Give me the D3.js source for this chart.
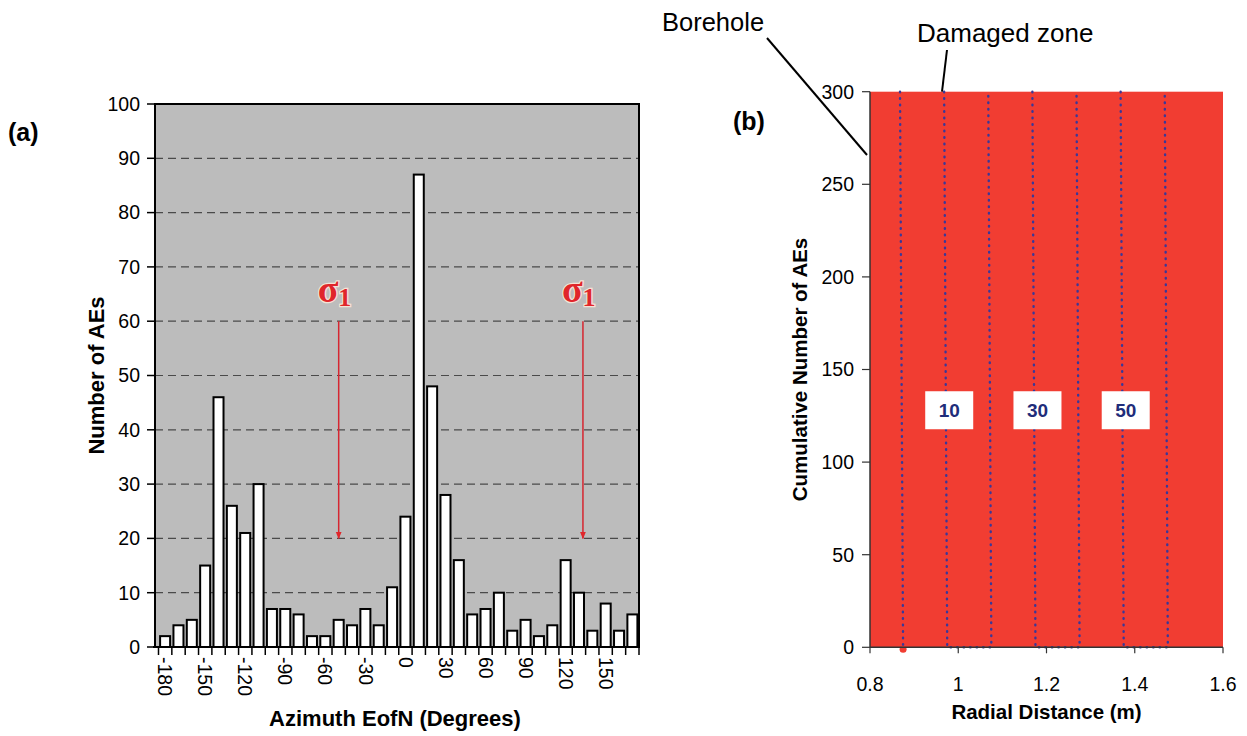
<!DOCTYPE html>
<html lang="en">
	<head>
		<meta charset="utf-8">
		<title>AE azimuth and radial distance</title>
		<script type="text/javascript" src="https://d3js.org/d3.v7.min.js"></script>
		<style type="text/css">
			body { margin: 0; background: white; }
			svg text { font-family: "Liberation Sans", Arial, sans-serif; }
		</style>
		<script>
			// (a) histogram: one bar per 10 degree bin
			const azimuthBins = d3.range(-180, 180, 10);
			const aeCounts = [2, 4, 5, 15, 46, 26, 21, 30, 7, 7, 6, 2, 2, 5, 4, 7, 4, 11,
				24, 87, 48, 28, 16, 6, 7, 10, 3, 5, 2, 4, 16, 10, 3, 8, 3, 6];
			const azimuthLabels = [-180, -150, -120, -90, -60, -30, 0, 30, 60, 90, 120, 150];
			const countTicks = d3.range(0, 101, 10);
			const sigmaAzimuths = [-45, 138];
			const sigmaRange = [60, 20];

			// (b) cumulative AEs vs radial distance
			const boreholeLine = [[0.868, 300], [0.875, 0]];
			const zoneLabels = ["10", "30", "50"];
			const zoneLines = [
				[[0.968, 300], [0.975, 0], [1.075, 0], [1.068, 300]],
				[[1.168, 300], [1.175, 0], [1.275, 0], [1.268, 300]],
				[[1.368, 300], [1.375, 0], [1.475, 0], [1.468, 300]]
			];
			const zoneLabelY = 128;
			const distTicks = [0.8, 1, 1.2, 1.4, 1.6];
			const cumTicks = [0, 50, 100, 150, 200, 250, 300];

			const init = () => {
				const svg = d3.select("#escenario");

				// ---------- panel (a) ----------
				const x = d3.scaleBand()
					.domain(azimuthBins)
					.range([158.5, 639])
					.paddingInner(0.25)
					.paddingOuter(0.12);
				const xLin = d3.scaleLinear().domain([-180, 180]).range([158.5, 639]);
				const y = d3.scaleLinear().domain([0, 100]).range([647, 104]);

				const a = svg.append("g");
				a.append("rect")
					.attr("x", 155).attr("y", y(100))
					.attr("width", 639 - 155).attr("height", y(0) - y(100))
					.style("fill", "#bcbcbc");

				// dashed grid
				a.append("g").selectAll("line")
					.data(countTicks.filter(d => d > 0 && d < 100)).enter()
					.append("line")
					.attr("x1", 155).attr("x2", 639)
					.attr("y1", d => y(d)).attr("y2", d => y(d))
					.style("stroke", "#4a4a4a")
					.style("stroke-width", 1.2)
					.style("stroke-dasharray", "8,5");

				// bars
				a.append("g").selectAll("rect")
					.data(aeCounts).enter()
					.append("rect")
					.attr("x", (d, i) => x(azimuthBins[i]))
					.attr("y", d => y(d))
					.attr("width", x.bandwidth())
					.attr("height", d => y(0) - y(d))
					.style("fill", "white")
					.style("stroke", "black")
					.style("stroke-width", 2);

				// frame
				a.append("rect")
					.attr("x", 155).attr("y", y(100))
					.attr("width", 639 - 155).attr("height", y(0) - y(100))
					.style("fill", "none")
					.style("stroke", "black")
					.style("stroke-width", 2);

				// y axis
				a.append("g").selectAll("line")
					.data(countTicks).enter()
					.append("line")
					.attr("x1", 147).attr("x2", 155)
					.attr("y1", d => y(d)).attr("y2", d => y(d))
					.style("stroke", "black").style("stroke-width", 1.5);
				a.append("g").selectAll("text")
					.data(countTicks).enter()
					.append("text")
					.attr("x", 140).attr("y", d => y(d))
					.attr("dy", "0.35em")
					.attr("text-anchor", "end")
					.style("font-size", "19.5px")
					.text(d => d);

				// x axis: ticks between bins, labels under bins
				const boundaries = d3.range(0, azimuthBins.length + 1).map(i => 158.5 + i * (639 - 158.5) / azimuthBins.length);
				a.append("g").selectAll("line")
					.data(boundaries).enter()
					.append("line")
					.attr("x1", d => d).attr("x2", d => d)
					.attr("y1", y(0)).attr("y2", y(0) + 8)
					.style("stroke", "black").style("stroke-width", 1.5);
				a.append("line")
					.attr("x1", 153).attr("x2", 639)
					.attr("y1", y(0)).attr("y2", y(0))
					.style("stroke", "black").style("stroke-width", 2);
				a.append("g").selectAll("text")
					.data(azimuthLabels).enter()
					.append("text")
					.attr("transform", d => "translate(" + (x(d) + x.bandwidth() / 2) + ",657) rotate(90)")
					.attr("dy", "0.35em")
					.attr("text-anchor", "start")
					.style("font-size", "19.5px")
					.text(d => d);

				// sigma arrows
				const defs = svg.append("defs");
				defs.append("marker")
					.attr("id", "arrow")
					.attr("viewBox", "0 0 10 10")
					.attr("refX", 9).attr("refY", 5)
					.attr("markerWidth", 5).attr("markerHeight", 9)
					.attr("orient", "auto")
					.append("path")
					.attr("d", "M0,1 L10,5 L0,9 Z")
					.style("fill", "#e0262b");

				sigmaAzimuths.forEach(az => {
					a.append("line")
						.attr("x1", xLin(az)).attr("x2", xLin(az))
						.attr("y1", y(sigmaRange[0])).attr("y2", y(sigmaRange[1]))
						.style("stroke", "#d62630")
						.style("stroke-width", 1.5)
						.attr("marker-end", "url(#arrow)");
					const s = a.append("text")
						.attr("x", xLin(az) - 21).attr("y", y(sigmaRange[0]) - 19)
						.style("font-family", "'Liberation Serif', 'DejaVu Serif', serif")
						.style("font-size", "38px")
						.style("font-weight", "bold")
						.style("fill", "#e0262b")
						.style("stroke", "#f4e2d6")
						.style("stroke-width", 2.5)
						.style("paint-order", "stroke");
					s.append("tspan").text("σ");
					s.append("tspan").attr("dy", 4).style("font-size", "26px").text("1");
				});

				a.append("text")
					.attr("transform", "translate(104," + (y(50)) + ") rotate(-90)")
					.attr("text-anchor", "middle")
					.style("font-size", "22px").style("font-weight", "bold")
					.text("Number of AEs");
				a.append("text")
					.attr("x", 395).attr("y", 726)
					.attr("text-anchor", "middle")
					.style("font-size", "22px").style("font-weight", "bold")
					.text("Azimuth EofN (Degrees)");
				a.append("text")
					.attr("x", 8).attr("y", 141)
					.style("font-size", "25px").style("font-weight", "bold")
					.text("(a)");

				// ---------- panel (b) ----------
				const xb = d3.scaleLinear().domain([0.8, 1.6]).range([870, 1223]);
				const yb = d3.scaleLinear().domain([0, 300]).range([647.3, 91.7]);
				const b = svg.append("g");

				b.append("rect")
					.attr("x", xb(0.8)).attr("y", yb(300))
					.attr("width", xb(1.6) - xb(0.8)).attr("height", yb(0) - yb(300))
					.style("fill", "#f13d32");

				const line = d3.line().x(d => xb(d[0])).y(d => yb(d[1]));
				b.append("path")
					.datum(boreholeLine)
					.attr("d", line)
					.style("fill", "none")
					.style("stroke", "#3a3898")
					.style("stroke-width", 2.4)
					.style("stroke-linecap", "round")
					.style("stroke-dasharray", "0.5,6");
				b.append("g").selectAll("path")
					.data(zoneLines).enter()
					.append("path")
					.attr("d", line)
					.style("fill", "none")
					.style("stroke", "#3a3898")
					.style("stroke-width", 2.4)
					.style("stroke-linecap", "round")
					.style("stroke-dasharray", "0.5,6");

				b.append("circle")
					.attr("cx", xb(boreholeLine[1][0])).attr("cy", yb(0) + 2)
					.attr("r", 3.5)
					.style("fill", "#f13d32");

				// axes
				b.append("line")
					.attr("x1", xb(0.8)).attr("x2", xb(0.8))
					.attr("y1", yb(300)).attr("y2", yb(0))
					.style("stroke", "#333").style("stroke-width", 1.5);
				b.append("line")
					.attr("x1", xb(0.8)).attr("x2", xb(1.6))
					.attr("y1", yb(0)).attr("y2", yb(0))
					.style("stroke", "#333").style("stroke-width", 1.5);
				b.append("g").selectAll("line")
					.data(cumTicks).enter()
					.append("line")
					.attr("x1", xb(0.8) - 8).attr("x2", xb(0.8))
					.attr("y1", d => yb(d)).attr("y2", d => yb(d))
					.style("stroke", "#333").style("stroke-width", 1.2);
				b.append("g").selectAll("text")
					.data(cumTicks).enter()
					.append("text")
					.attr("x", xb(0.8) - 16).attr("y", d => yb(d))
					.attr("dy", "0.35em")
					.attr("text-anchor", "end")
					.style("font-size", "19.5px")
					.text(d => d);
				b.append("g").selectAll("line")
					.data(distTicks).enter()
					.append("line")
					.attr("x1", d => xb(d)).attr("x2", d => xb(d))
					.attr("y1", yb(0)).attr("y2", yb(0) + 6)
					.style("stroke", "#333").style("stroke-width", 1.2);
				b.append("g").selectAll("text")
					.data(distTicks).enter()
					.append("text")
					.attr("x", d => xb(d)).attr("y", 691)
					.attr("text-anchor", "middle")
					.style("font-size", "19.5px")
					.text(d => d);

				// series labels
				const lab = b.append("g").selectAll("g")
					.data(zoneLabels).enter()
					.append("g")
					.attr("transform", (d, i) => "translate(" + (xb(zoneLines[i][1][0]) + 2) + "," + yb(zoneLabelY) + ")");
				lab.append("rect")
					.attr("x", -24).attr("y", -19)
					.attr("width", 48).attr("height", 38)
					.style("fill", "white");
				lab.append("text")
					.attr("text-anchor", "middle")
					.attr("dy", "0.36em")
					.style("font-size", "19px").style("font-weight", "bold")
					.style("fill", "#1f2d7a")
					.text(d => d);

				b.append("text")
					.attr("transform", "translate(807," + yb(150) + ") rotate(-90)")
					.attr("text-anchor", "middle")
					.style("font-size", "20.5px").style("font-weight", "bold")
					.text("Cumulative Number of AEs");
				b.append("text")
					.attr("x", xb(1.2)).attr("y", 719)
					.attr("text-anchor", "middle")
					.style("font-size", "20.5px").style("font-weight", "bold")
					.text("Radial Distance (m)");
				b.append("text")
					.attr("x", 733).attr("y", 130)
					.style("font-size", "25px").style("font-weight", "bold")
					.text("(b)");

				// callouts
				b.append("text")
					.attr("x", 662).attr("y", 31)
					.style("font-size", "25.5px")
					.text("Borehole");
				b.append("line")
					.attr("x1", 767).attr("y1", 38)
					.attr("x2", xb(0.8) - 3).attr("y2", 155)
					.style("stroke", "black").style("stroke-width", 2);
				b.append("text")
					.attr("x", 917).attr("y", 42)
					.style("font-size", "26px")
					.text("Damaged zone");
				b.append("line")
					.attr("x1", 947).attr("y1", 50)
					.attr("x2", 942).attr("y2", yb(300))
					.style("stroke", "black").style("stroke-width", 2);
			};
		</script>
	</head>
	<body>
		<svg id="escenario" width="1247" height="736"></svg>
		<script type="text/javascript">
			init();
		</script>
	</body>
</html>
